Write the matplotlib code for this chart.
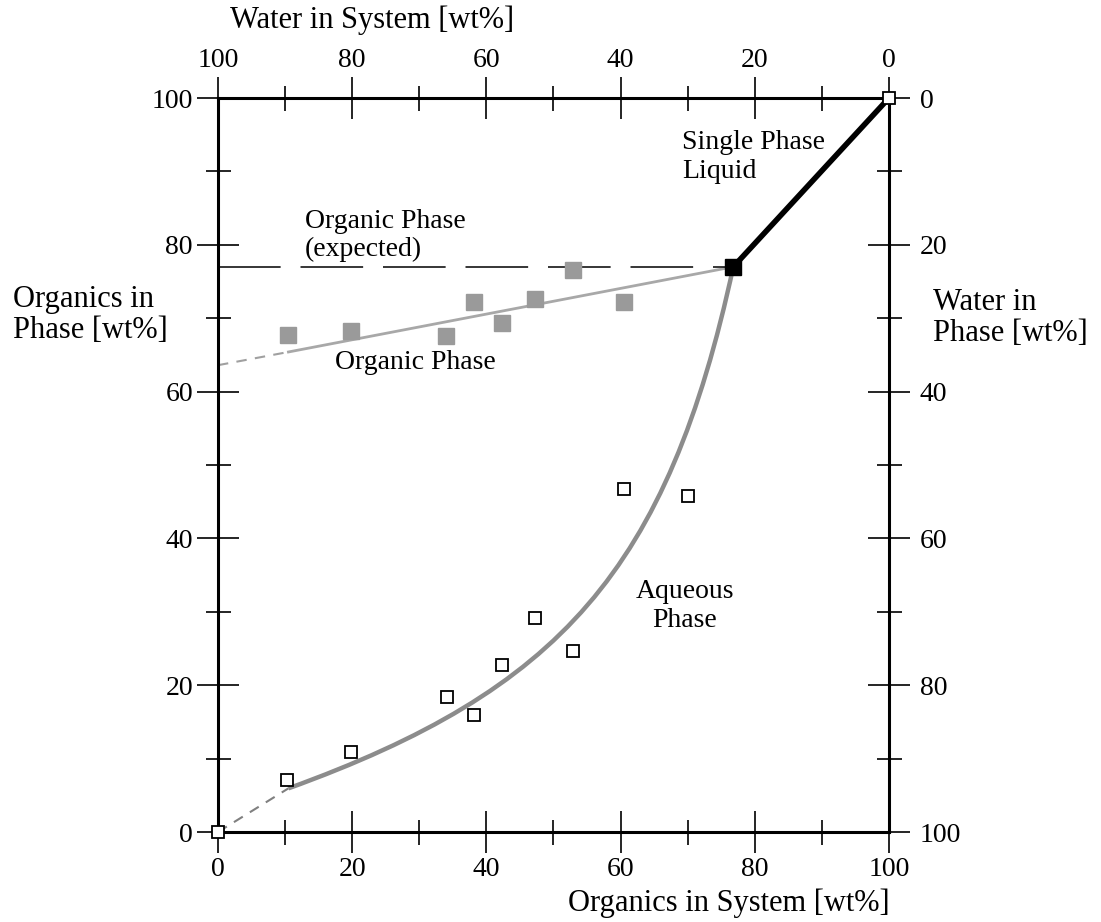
import matplotlib.pyplot as plt
from matplotlib.ticker import MultipleLocator
from matplotlib.path import Path
from matplotlib.patches import PathPatch

plt.rcParams['font.family'] = ['Liberation Serif', 'DejaVu Serif']

# Organic phase measurements (gray filled squares)
org_x = [10.4, 19.8, 34.0, 38.2, 42.3, 47.2, 52.9, 60.5]
org_y = [67.7, 68.3, 67.6, 72.2, 69.3, 72.6, 76.6, 72.2]

# Aqueous phase measurements (open squares)
aq_x = [10.3, 19.8, 34.1, 38.2, 42.3, 47.2, 52.9, 60.5, 70.0]
aq_y = [7.1, 10.9, 18.4, 15.9, 22.8, 29.2, 24.7, 46.7, 45.8]

# critical point and pure component points
crit_x, crit_y = 76.8, 77.0
end_x = [0, 100]
end_y = [0, 100]

# aqueous fit curve (bezier control points)
aq_fit_x = [10.5, 50.85, 67.0, 76.8]
aq_fit_y = [5.95, 19.3, 35.6, 77.0]

# organic fit line
org_line_x = [0, 10.5, 76.8]
org_line_y = [63.6, 65.4, 77.0]

fig = plt.figure(figsize=(11.01, 9.22), dpi=100)
ax = fig.add_axes([0.198, 0.0976, 0.6094, 0.7961])

# second scales: water = 100 - organics
top = ax.twiny()
right = ax.twinx()
top.set_xlim(100, 0)
right.set_ylim(100, 0)
right.get_xaxis().set_visible(False)
top.get_yaxis().set_visible(False)
for a in (top, right):
    a.patch.set_visible(False)
    for s in a.spines.values():
        s.set_visible(False)
    a.set_zorder(0)
ax.set_zorder(1)
ax.patch.set_visible(False)

# fit lines
ax.plot(org_line_x[:2], org_line_y[:2], color='#a0a0a0', lw=1.5, ls=(0, (5, 4)))
ax.plot(org_line_x[1:], org_line_y[1:], color='#a8a8a8', lw=2)
ax.plot([0, aq_fit_x[0]], [0, aq_fit_y[0]], color='#808080', lw=1.5, ls=(0, (5, 4)))
verts = list(zip(aq_fit_x, aq_fit_y))
curve = Path(verts, [Path.MOVETO, Path.CURVE4, Path.CURVE4, Path.CURVE4])
ax.add_patch(PathPatch(curve, facecolor='none', edgecolor='#8c8c8c', lw=3.2))

# expected organic phase
ax.plot([0, crit_x], [crit_y, crit_y], color='black', lw=1.1, ls=(0, (41, 13)))

# single phase
ax.plot([crit_x, 100], [crit_y, 100], color='black', lw=4)

ax.plot(org_x, org_y, 's', color='#9a9a9a', ms=12, mec='#9a9a9a')
ax.plot(aq_x, aq_y, 's', mfc='white', mec='black', ms=9, mew=1.3)
ax.plot(end_x, end_y, 's', mfc='white', mec='black', ms=9, mew=1.3, clip_on=False, zorder=5)
ax.plot([crit_x], [crit_y], 's', color='black', ms=12, zorder=5)

ax.set_xlim(0, 100)
ax.set_ylim(0, 100)
for s in ax.spines.values():
    s.set_linewidth(2.2)

maj = dict(which='major', direction='inout', length=30, width=1.2, labelsize=20, pad=3)
mnr = dict(which='minor', direction='inout', length=18, width=1.2)

for a, axis in ((ax, ax.xaxis), (ax, ax.yaxis), (top, top.xaxis), (right, right.yaxis)):
    axis.set_major_locator(MultipleLocator(20))
    axis.set_minor_locator(MultipleLocator(10))
ax.tick_params(top=False, right=False, **maj)
ax.tick_params(top=False, right=False, **mnr)
top.tick_params(axis='x', **maj)
top.tick_params(axis='x', **mnr)
right.tick_params(axis='y', **dict(maj, pad=7))
right.tick_params(axis='y', **mnr)

# axis titles
fig.text(230 / 1101, 1 - 20 / 922, 'Water in System [wt%]', fontsize=22, ha='left', va='center')
fig.text(890 / 1101, 1 - 903 / 922, 'Organics in System [wt%]', fontsize=22, ha='right', va='center')
fig.text(13 / 1101, 1 - 315 / 922, 'Organics in\nPhase [wt%]', fontsize=22, ha='left', va='center',
         linespacing=1.12)
fig.text(933 / 1101, 1 - 318 / 922, 'Water in\nPhase [wt%]', fontsize=22, ha='left', va='center',
         linespacing=1.05)

# region labels
ax.text(69.15, 92.0, 'Single Phase\nLiquid', fontsize=20, ha='left', va='center', linespacing=1.2)
ax.text(12.97, 81.3, 'Organic Phase\n(expected)', fontsize=20, ha='left', va='center', linespacing=1.15)
ax.text(17.4, 63.9, 'Organic Phase', fontsize=20, ha='left', va='center')
ax.text(69.6, 30.8, 'Aqueous\nPhase', fontsize=20, ha='center', va='center', linespacing=1.2)

fig.savefig('out.png', dpi=100)
